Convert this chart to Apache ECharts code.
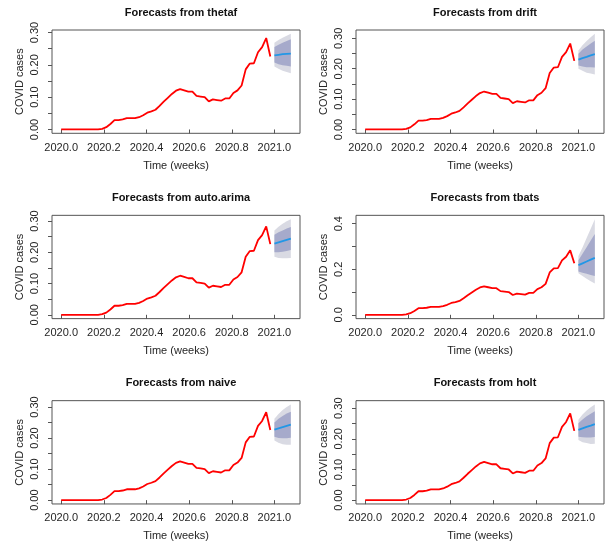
<!DOCTYPE html>
<html>
<head>
<meta charset="utf-8">
<script src="https://cdn.jsdelivr.net/npm/echarts@6/dist/echarts.min.js"></script>
<style>
html,body{margin:0;padding:0;background:#fff;}
#chart{width:608px;height:556px;}
</style>
</head>
<body>
<div id="chart"></div>
<script>
// ---- data ----
const startYear = 2020;
const freq = 52;
const covid = [0,0,0,0,0,0,0,0,0,0,0.002,0.007,0.017,0.029,0.029,0.031,0.035,0.035,0.035,0.038,
  0.044,0.052,0.056,0.061,0.073,0.086,0.098,0.110,0.120,0.125,0.121,0.117,0.117,0.104,0.102,0.100,
  0.087,0.093,0.091,0.089,0.096,0.096,0.113,0.121,0.136,0.186,0.204,0.205,0.239,0.255,0.283,0.226];

const methods = ["thetaf","drift","auto.arima","tbats","naive","holt"];

const thetafMean = [0.229,0.231,0.233,0.234,0.235];
const thetafLo80 = [0.207,0.202,0.199,0.197,0.195];
const thetafHi80 = [0.255,0.262,0.268,0.274,0.279];
const thetafLo95 = [0.195,0.188,0.182,0.178,0.174];
const thetafHi95 = [0.268,0.277,0.284,0.290,0.296];

const driftMean = [0.230,0.235,0.239,0.244,0.248];
const driftLo80 = [0.211,0.207,0.205,0.205,0.204];
const driftHi80 = [0.249,0.263,0.273,0.283,0.292];
const driftLo95 = [0.200,0.193,0.187,0.184,0.181];
const driftHi95 = [0.260,0.277,0.291,0.304,0.315];

const arimaMean = [0.228,0.232,0.236,0.240,0.244];
const arimaLo80 = [0.200,0.200,0.202,0.204,0.207];
const arimaHi80 = [0.256,0.264,0.270,0.276,0.281];
const arimaLo95 = [0.186,0.182,0.181,0.181,0.182];
const arimaHi95 = [0.270,0.282,0.291,0.299,0.306];

const tbatsMean = [0.218,0.226,0.234,0.242,0.250];
const tbatsLo80 = [0.190,0.185,0.180,0.175,0.170];
const tbatsHi80 = [0.240,0.268,0.297,0.326,0.355];
const tbatsLo95 = [0.182,0.170,0.158,0.147,0.137];
const tbatsHi95 = [0.258,0.296,0.337,0.378,0.420];

const naiveMean = [0.227,0.231,0.235,0.239,0.243];
const naiveLo80 = [0.204,0.200,0.199,0.199,0.201];
const naiveHi80 = [0.250,0.262,0.271,0.279,0.285];
const naiveLo95 = [0.192,0.185,0.180,0.178,0.178];
const naiveHi95 = [0.262,0.277,0.290,0.300,0.308];

const holtMean = [0.229,0.234,0.239,0.243,0.248];
const holtLo80 = [0.207,0.205,0.204,0.204,0.206];
const holtHi80 = [0.251,0.263,0.274,0.282,0.290];
const holtLo95 = [0.196,0.189,0.186,0.183,0.184];
const holtHi95 = [0.262,0.279,0.292,0.303,0.312];

const xTicks = [2020.0,2020.2,2020.4,2020.6,2020.8,2021.0];
const yTicksA = [0,0.05,0.10,0.15,0.20,0.25,0.30];
const yLabelsA = [0,0.10,0.20,0.30];
const yTicksB = [0,0.1,0.2,0.3,0.4];
const yLabelsB = [0,0.2,0.4];

// ---- build ----
const fc = {
  "thetaf":[thetafMean,thetafLo80,thetafHi80,thetafLo95,thetafHi95],
  "drift":[driftMean,driftLo80,driftHi80,driftLo95,driftHi95],
  "auto.arima":[arimaMean,arimaLo80,arimaHi80,arimaLo95,arimaHi95],
  "tbats":[tbatsMean,tbatsLo80,tbatsHi80,tbatsLo95,tbatsHi95],
  "naive":[naiveMean,naiveLo80,naiveHi80,naiveLo95,naiveHi95],
  "holt":[holtMean,holtLo80,holtHi80,holtLo95,holtHi95]
};
const tObs = covid.map((v,i)=>startYear + i/freq);
const tFc = thetafMean.map((v,i)=>startYear + (covid.length+i)/freq);

const FONT = '"Liberation Sans", Arial, sans-serif';
const TXT = '#262626';
const LINE = '#555';
const PW = 304, PH = 556/3;
const GL = 52, GT = 30, GW = 248, GH = 103.3;

const grids=[], xAxes=[], yAxes=[], series=[], titles=[];
const xlo = tObs[0], xhi = tFc[tFc.length-1];
const xpad = (xhi-xlo)*0.04;

methods.forEach((m,k)=>{
  const c = k%2, r = Math.floor(k/2);
  const [mean,lo80,hi80,lo95,hi95] = fc[m];
  const allV = covid.concat(mean,lo80,hi80,lo95,hi95);
  const ymax = Math.max(...allV), ymin = Math.min(...allV);
  const ypad = (ymax-ymin)*0.04;
  const isB = (m==="tbats");
  grids.push({left:GL+PW*c, top:GT+PH*r, width:GW, height:GH, show:true,
    borderColor:LINE, borderWidth:1, backgroundColor:'transparent'});
  titles.push({text:'Forecasts from '+m, left:GL+PW*c+GW/2, top:PH*r+2, textAlign:'center',
    textStyle:{fontFamily:FONT,fontSize:11,fontWeight:'bold',color:'#111'}});
  xAxes.push({type:'value', gridIndex:k, min:xlo-xpad, max:xhi+xpad,
    axisLine:{show:false}, splitLine:{show:false},
    axisTick:{show:true, inside:false, length:4, lineStyle:{color:LINE}, customValues:xTicks},
    axisLabel:{show:true, customValues:xTicks, margin:9, fontFamily:FONT, fontSize:11, color:TXT,
      formatter:v=>v.toFixed(1)},
    name:'Time (weeks)', nameLocation:'middle', nameGap:27,
    nameTextStyle:{fontFamily:FONT,fontSize:11,color:TXT}});
  yAxes.push({type:'value', gridIndex:k, min:ymin-ypad, max:ymax+ypad,
    axisLine:{show:false}, splitLine:{show:false},
    axisTick:{show:true, inside:false, length:4, lineStyle:{color:LINE}, customValues:isB?yTicksB:yTicksA},
    axisLabel:{show:true, rotate:90, margin:12, customValues:isB?yLabelsB:yLabelsA, fontFamily:FONT, fontSize:11, color:TXT,
      formatter:v=>v.toFixed(isB?1:2)},
    name:'COVID cases', nameLocation:'middle', nameGap:27, nameRotate:90,
    nameTextStyle:{fontFamily:FONT,fontSize:11,color:TXT}});
  const band = (lo,hi,color)=>({
    type:'custom', xAxisIndex:k, yAxisIndex:k, silent:true, clip:true,
    data:[[tFc[0], lo[0], hi[0]]],
    renderItem:(params,api)=>{
      const pts=[];
      for(let i=0;i<tFc.length;i++) pts.push(api.coord([tFc[i],hi[i]]));
      for(let i=tFc.length-1;i>=0;i--) pts.push(api.coord([tFc[i],lo[i]]));
      return {type:'polygon', shape:{points:pts}, style:{fill:color, stroke:null}};
    }
  });
  series.push(band(lo95,hi95,'#D9DAE3'));
  series.push(band(lo80,hi80,'#A6AACB'));
  series.push({type:'line', xAxisIndex:k, yAxisIndex:k, showSymbol:false, silent:true,
    data:tObs.map((t,i)=>[t,covid[i]]), lineStyle:{color:'#FF0000', width:1.8}, itemStyle:{color:'#FF0000'}});
  series.push({type:'line', xAxisIndex:k, yAxisIndex:k, showSymbol:false, silent:true,
    data:tFc.map((t,i)=>[t,mean[i]]), lineStyle:{color:'#2297E6', width:1.8}, itemStyle:{color:'#2297E6'}});
});

const chart = echarts.init(document.getElementById('chart'), null, {renderer:'canvas'});
chart.setOption({animation:false, backgroundColor:'#fff', title:titles, grid:grids, xAxis:xAxes, yAxis:yAxes, series:series});
</script>
</body>
</html>
